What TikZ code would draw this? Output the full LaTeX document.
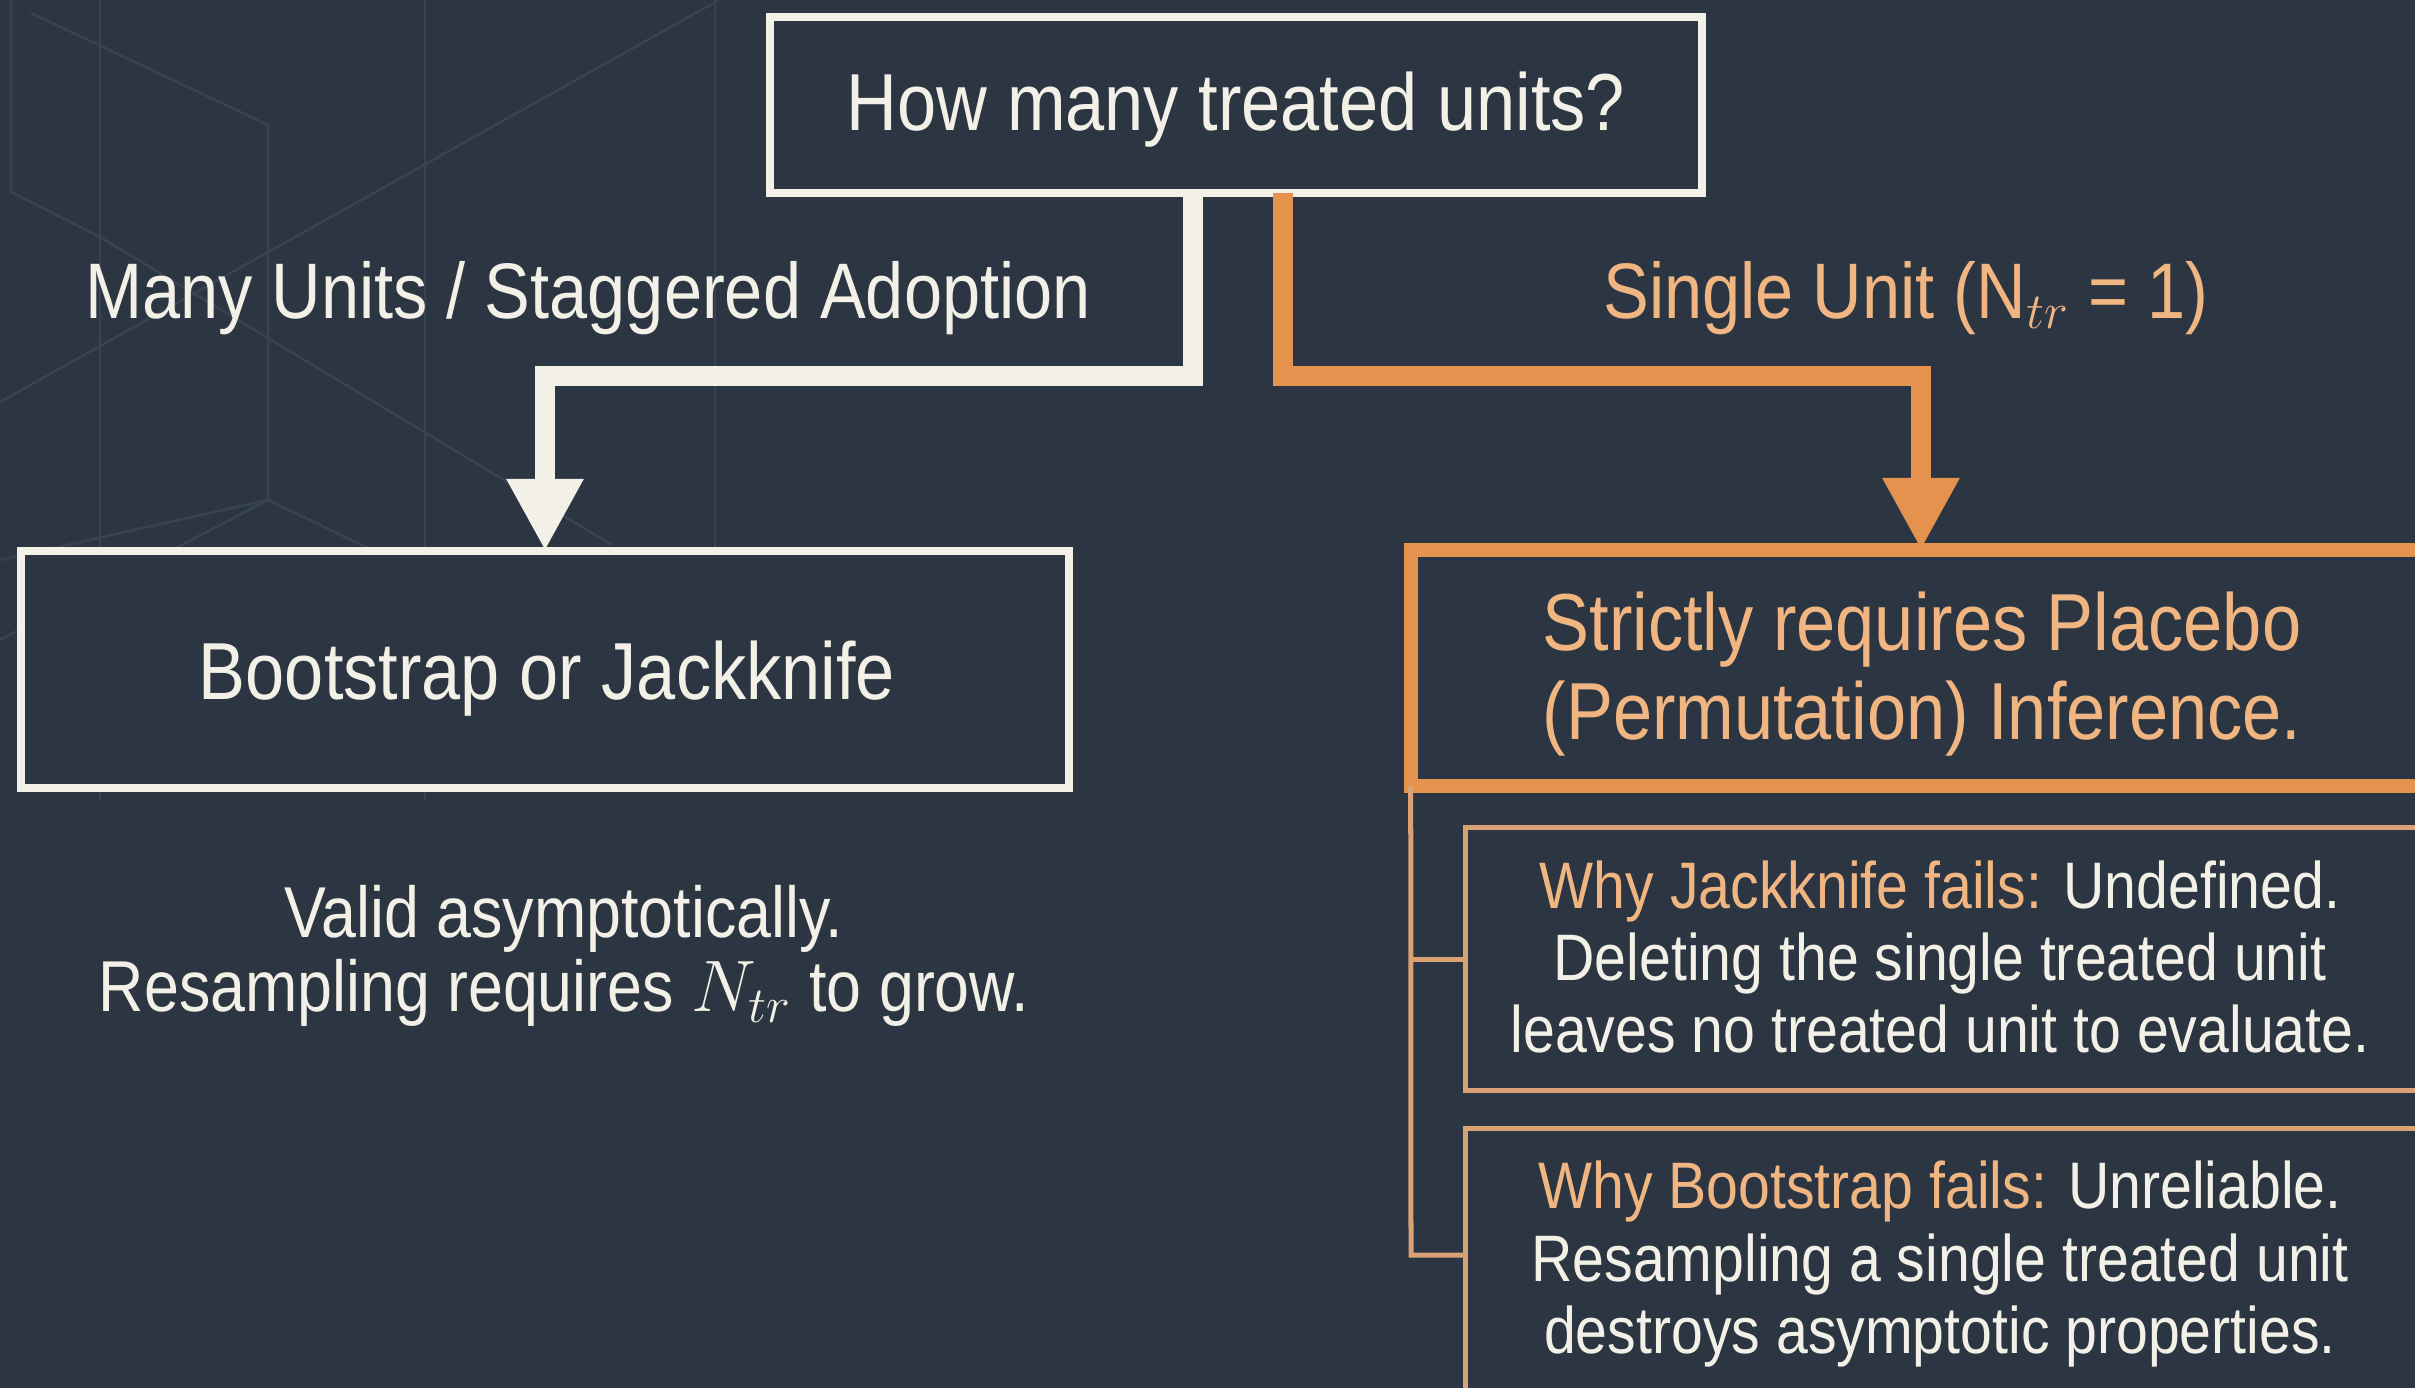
\documentclass[tikz,border=0pt]{standalone}
\usepackage{fontspec}
\setmainfont{Liberation Sans}[FakeStretch=0.87]
\usetikzlibrary{arrows.meta}
\definecolor{bg}{HTML}{2C3643}
\definecolor{cream}{HTML}{F3F1E7}
\definecolor{org}{HTML}{E5924E}
\definecolor{peach}{HTML}{F0B581}
\definecolor{mut}{HTML}{D9A274}
\definecolor{pat}{HTML}{374350}
\begin{document}
\begin{tikzpicture}[x=0.01cm,y=-0.01cm,
  bigfont/.style={font=\fontsize{23pt}{25.3pt}\selectfont},
  labfont/.style={font=\fontsize{22.4pt}{25pt}\selectfont},
  midfont/.style={font=\fontsize{20.5pt}{21pt}\selectfont},
  smallfont/.style={font=\fontsize{18.7pt}{20.6pt}\selectfont},
  cbox/.style={draw=cream, line width=0.08cm, fill=bg, rectangle, inner sep=0pt, outer sep=0pt},
  obox/.style={draw=org, line width=0.14cm, fill=bg, rectangle, inner sep=0pt, outer sep=0pt},
  subbox/.style={draw=mut, line width=0.05cm, fill=bg, rectangle, inner sep=0pt, outer sep=0pt},
  wline/.style={draw=cream, line width=0.2cm, line join=miter},
  oline/.style={draw=org, line width=0.2cm, line join=miter},
  tline/.style={draw=mut, line width=0.05cm},
  tip/.style={-{Triangle[width=0.72cm,length=0.72cm]}},
  patline/.style={draw=pat, line width=0.025cm},
  txt/.style={inner sep=0pt, align=center}
]
\useasboundingbox (0,0) rectangle (2415,1388);
\clip (0,0) rectangle (2415,1388);
\fill[bg] (0,0) rectangle (2415,1388);

% faint background pattern
\draw[patline] (100,0) -- (100,800);
\draw[patline] (425,0) -- (425,800);
\draw[patline] (715,0) -- (715,700);
\draw[patline] (11,0) -- (11,192) -- (100,237) -- (612,545);
\draw[patline] (31,13) -- (268,125) -- (268,500) -- (0,640);
\draw[patline] (719,0) -- (0,402);
\draw[patline] (0,560) -- (268,500) -- (560,640);

% nodes
\node[cbox, minimum width=9.31cm, minimum height=1.76cm] (q) at (1236,105) {};
\node[bigfont, text=cream, anchor=base, inner sep=0pt] (qt) at (1236,131) {How many treated units?};

\node[cbox, minimum width=10.48cm, minimum height=2.37cm] (bj) at (545,669.5) {};
\node[bigfont, text=cream, anchor=base, inner sep=0pt] (bjt) at (547,699) {Bootstrap or Jackknife};

\node[obox, minimum width=10.29cm, minimum height=2.36cm] (pl) at (1925.5,668) {};
\node[bigfont, txt, text=peach] (plt) at (1922,674) {Strictly requires Placebo\\(Permutation) Inference.};

\node[subbox, minimum width=9.74cm, minimum height=2.62cm] (s1) at (1953,959) {};
\node[smallfont, txt, text=cream] (s1t) at (1940,957) {{\color{peach}Why Jackknife fails:} Undefined.\\Deleting the single treated unit\\leaves no treated unit to evaluate.};

\node[subbox, minimum width=9.74cm, minimum height=3.11cm] (s2) at (1953,1284.5) {};
\node[smallfont, txt, text=cream] (s2t) at (1940,1264) {{\color{peach}Why Bootstrap fails:} Unreliable.\\Resampling a single treated unit\\destroys asymptotic properties.};

\node[midfont, txt, text=cream] (vt) at (564,956) {Valid asymptotically.\\Resampling requires $N_{tr}$ to grow.};

\node[labfont, text=cream, anchor=base, inner sep=0pt] (ml) at (588,318) {Many Units / Staggered Adoption};
\node[labfont, text=peach, anchor=base, inner sep=0pt] (sl) at (1906,318) {Single Unit (N$_{tr}$ = 1)};

% connectors
\coordinate (w1) at (1193,376);
\coordinate (o1) at (1283,376);
\coordinate (o2) at (1921,376);
\draw[wline, tip] (q.south -| w1) -- (w1) -| (bj.north);
\draw[oline, tip] (q.south -| o1) -- (o1) -- (o2) -- (pl.north -| o2);

\coordinate (tr) at (1411,1255);
\draw[tline] (pl.south west) -- (tr) -- (s2.west |- tr);
\draw[tline] (pl.south west |- s1.west) -- (s1.west);
\end{tikzpicture}
\end{document}
